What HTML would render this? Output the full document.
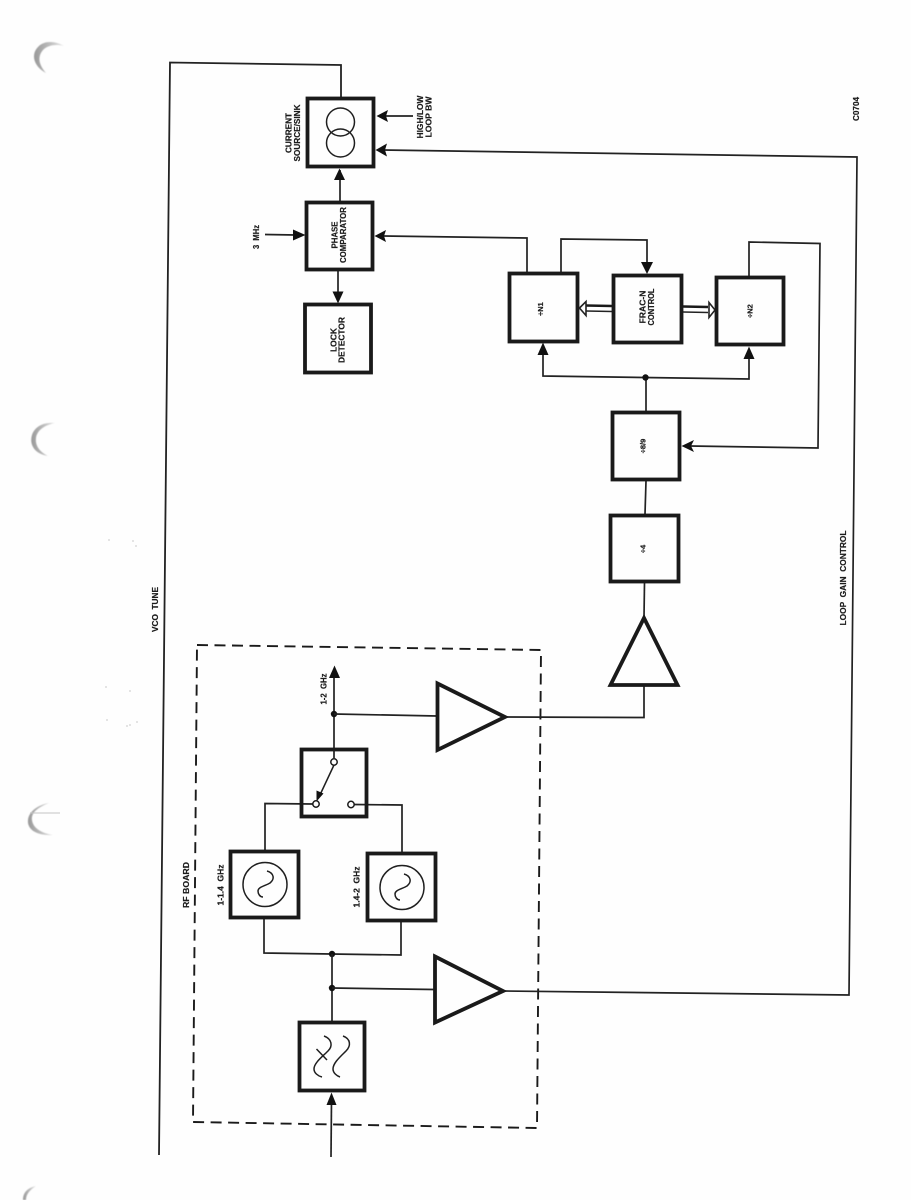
<!DOCTYPE html>
<html>
<head>
<meta charset="utf-8">
<style>
html,body{margin:0;padding:0;background:#fff;width:911px;height:1200px;overflow:hidden}
svg{display:block}
text{font-family:"Liberation Sans",sans-serif;font-weight:bold;fill:#1c1c1c;stroke:#1c1c1c;stroke-width:.2;font-size:8px;text-anchor:middle}
.b{fill:none;stroke:#1a1a1a;stroke-width:3.8}
.l{fill:none;stroke:#222;stroke-width:1.7}
.t{fill:none;stroke:#1f1f1f;stroke-width:1.5}
.a{fill:#111;stroke:none}
.d{fill:#111;stroke:none}
</style>
</head>
<body>
<svg width="911" height="1200" viewBox="0 0 911 1200" xmlns="http://www.w3.org/2000/svg">
<defs>
<linearGradient id="g" x1="0" y1="0" x2="1" y2="0">
<stop offset="0" stop-color="#999"/><stop offset="0.5" stop-color="#bbb"/><stop offset="1" stop-color="#e6e6e6"/>
</linearGradient>
<filter id="s"><feGaussianBlur stdDeviation="0.5"/></filter>
</defs>
<rect width="911" height="1200" fill="#fefefe"/>

<!-- punch holes -->
<g filter="url(#s)">
<path d="M64 46 C56 41 44 40 38 47 C31 54 33 66 46 73 C39 65 37 57 43 50 C48 45 56 44 64 46Z" fill="url(#g)"/>
<path d="M55 423 C44 422 35 426 32 435 C29 445 35 454 48 456 C40 452 35 446 36 438 C37 430 45 425 55 423Z" fill="url(#g)"/>
<path d="M49 803 C38 805 29 811 28 820 C27 829 36 836 53 835 C41 833 33 828 32 820 C31 812 39 807 49 803Z" fill="url(#g)"/>
<path d="M36 1186 C27 1188 23 1193 23 1200 L26 1200 C26 1194 30 1190 36 1186Z" fill="url(#g)"/>
</g>
<line x1="30" y1="813" x2="60" y2="813" stroke="#c4c4c4" stroke-width="1"/>
<g fill="#dcdcdc">
<circle cx="109" cy="540" r="1"/><circle cx="133" cy="541" r="1"/><circle cx="136" cy="546" r="1"/>
<circle cx="106" cy="687" r="1"/><circle cx="130" cy="691" r="1"/><circle cx="107" cy="720" r="1"/>
<circle cx="130" cy="725" r="1"/><circle cx="127" cy="726" r="1"/><circle cx="137" cy="722" r="1"/>
</g>

<!-- dashed RF board -->
<path d="M197 645 L541 650 L537 1128 L193 1122 Z" fill="none" stroke="#1a1a1a" stroke-width="1.9" stroke-dasharray="11 6.5"/>

<!-- VCO tune -->
<path d="M341 97 L341 65 L170 62.5 L159 1155" fill="none" stroke="#222" stroke-width="1.8"/>

<!-- Loop gain control -->
<path d="M383 150 L857 157 L849 995 L504 991" class="l"/>
<path class="a" d="M375.500 150 L387 143.500 L385 150 L387 156.500Z"/>

<!-- signal path -->
<path class="l" d="M340 201 L340 170"/>
<path class="a" d="M339.500 168.500 L345 180 L334 180Z"/>
<path class="l" d="M338 271 L338 295"/>
<path class="a" d="M338 303.500 L332.500 291.500 L343.500 291.500Z"/>
<path class="l" d="M265 234.500 L296 235"/>
<path class="a" d="M305.500 235 L293 229.500 L293 240.500Z"/>
<path class="l" d="M413 116 L385 116"/>
<path class="a" d="M376.500 116 L388 110 L386 116 L388 122Z"/>

<path class="l" d="M527 272 L527 238 L384 236"/>
<path class="a" d="M374.500 236 L386 230 L384 236 L386 242Z"/>
<path class="l" d="M561 272 L561 239 L647 240 L647 265"/>
<path class="a" d="M647 274 L641 262 L653 262Z"/>
<path class="l" d="M749 276 L749 242 L820 243.500 L818 448 L690 446"/>
<path class="a" d="M681.500 446 L694 440 L691 446 L694 452Z"/>

<path class="l" d="M646 411 L646 377"/>
<path class="l" d="M543 351 L543 376 L749 379 L749 355"/>
<path class="a" d="M543 342.500 L537.500 355 L548.500 355Z"/>
<path class="a" d="M749 346.500 L743.500 359 L754.500 359Z"/>
<circle class="d" cx="645.500" cy="377.500" r="3.200"/>
<path class="l" d="M645 514 L646 481"/>
<path class="l" d="M644 617 L644.500 583"/>

<!-- bus arrows -->
<path d="M612 306 L586 305.500" stroke="#1a1a1a" stroke-width="2.6" fill="none"/>
<path d="M612 311.500 L586 311" stroke="#222" stroke-width="1.4" fill="none"/>
<path d="M579.500 308 L586 301.500 L586 315.500Z" fill="#fff" stroke="#222" stroke-width="1.6"/>
<path d="M683 306.500 L708 307" stroke="#1a1a1a" stroke-width="2.6" fill="none"/>
<path d="M683 312 L708 312.500" stroke="#222" stroke-width="1.4" fill="none"/>
<path d="M715 310 L709 302.500 L709 317.500Z" fill="#fff" stroke="#222" stroke-width="1.6"/>

<!-- RF section connections -->
<path class="l" d="M506 717 L644 717.500 L644 686"/>
<path class="l" d="M334 758 L334 672"/>
<path class="a" d="M334.500 665.500 L340 678 L329 678Z"/>
<circle class="d" cx="334" cy="714" r="3.200"/>
<path class="l" d="M334 714 L437 716"/>
<path class="l" d="M265 850 L265 803.500 L312.500 804"/>
<path class="l" d="M402 852 L402 805 L354.500 804.500"/>
<path class="l" d="M264 919 L264 953 L401 955 L401 922"/>
<circle class="d" cx="332" cy="954" r="3.200"/>
<path class="l" d="M332 954 L332 1021"/>
<circle class="d" cx="332" cy="988" r="3.200"/>
<path class="l" d="M332 988 L434 989.500"/>
<path class="l" d="M331 1157 L331.500 1100"/>
<path class="a" d="M331.500 1092.500 L336.500 1105 L326.500 1105Z"/>

<!-- blocks -->
<rect class="b" x="307.500" y="98.500" width="66" height="68"/>
<rect class="b" x="306.500" y="202.500" width="66" height="67"/>
<rect class="b" x="305" y="304.500" width="66" height="68"/>
<rect class="b" x="509.500" y="273.500" width="68" height="68"/>
<rect class="b" x="613.500" y="275.500" width="68" height="67"/>
<rect class="b" x="716.500" y="277.500" width="67" height="67"/>
<rect class="b" x="612.500" y="412.500" width="67" height="67"/>
<rect class="b" x="610.500" y="515.500" width="68" height="66"/>
<rect class="b" x="301.500" y="749.500" width="65" height="67"/>
<rect class="b" x="230.500" y="851.500" width="68" height="66"/>
<rect class="b" x="367.500" y="853.500" width="68" height="67"/>
<rect class="b" x="299.500" y="1022.500" width="65" height="68"/>

<!-- amplifiers -->
<path class="b" d="M437.500 683.500 L505 717 L437.500 750Z" stroke-linejoin="miter"/>
<path class="b" d="M435 956.500 L503 991 L435 1022.500Z"/>
<path class="b" d="M644 618 L677.500 685 L610.500 685Z"/>

<!-- current source symbol -->
<circle class="t" cx="340.500" cy="122" r="14"/>
<circle class="t" cx="340.500" cy="143" r="14"/>

<!-- switch -->
<path class="t" d="M334 765 L319 797"/>
<path class="a" d="M316.500 801.500 L316.500 790.500 L323.500 793.500Z"/>
<circle cx="334" cy="762" r="3.200" fill="#fff" stroke="#1a1a1a" stroke-width="1.500"/>
<circle cx="316" cy="804" r="3.200" fill="#fff" stroke="#1a1a1a" stroke-width="1.500"/>
<circle cx="351" cy="804.500" r="3.200" fill="#fff" stroke="#1a1a1a" stroke-width="1.500"/>

<!-- oscillators -->
<circle class="t" cx="265" cy="884.500" r="22"/>
<path class="t" d="M267 871 C274 873 275 879 270 883 C265 886 258 887 258 891 C258 894 260 897 263 897"/>
<circle class="t" cx="402" cy="887.500" r="22"/>
<path class="t" d="M404 874 C411 876 412 882 407 886 C402 889 395 890 395 894 C395 897 397 900 400 900"/>

<!-- filter -->
<path class="t" d="M324 1036 C332 1039 333 1046 328 1051 C322 1057 314 1063 314 1069 C314 1073 318 1076 322 1077"/>
<path class="t" d="M343 1036 C351 1039 351 1046 346 1051 C340 1057 333 1063 333 1069 C333 1073 337 1076 340 1077"/>
<path class="t" d="M316.500 1049 L327 1060"/>

<!-- labels -->
<text transform="translate(291.500 133) rotate(-90)" textLength="40" lengthAdjust="spacingAndGlyphs">CURRENT</text>
<text transform="translate(300 133) rotate(-90)" textLength="57" lengthAdjust="spacingAndGlyphs">SOURCE/SINK</text>
<text transform="translate(423 117) rotate(-90)" textLength="43" lengthAdjust="spacingAndGlyphs">HIGH/LOW</text>
<text transform="translate(431.500 117) rotate(-90)" textLength="41" lengthAdjust="spacingAndGlyphs">LOOP  BW</text>
<text transform="translate(337.500 235) rotate(-90)" textLength="27" lengthAdjust="spacingAndGlyphs">PHASE</text>
<text transform="translate(346 235) rotate(-90)" textLength="56" lengthAdjust="spacingAndGlyphs">COMPARATOR</text>
<text transform="translate(259 237) rotate(-90)" textLength="24" lengthAdjust="spacingAndGlyphs" xml:space="preserve">3  MHz</text>
<text transform="translate(336.500 340) rotate(-90)" textLength="24" lengthAdjust="spacingAndGlyphs">LOCK</text>
<text transform="translate(344.500 340) rotate(-90)" textLength="46" lengthAdjust="spacingAndGlyphs">DETECTOR</text>
<text transform="translate(543 309) rotate(-90)" style="font-size:7.500px">÷N1</text>
<text transform="translate(645.500 307) rotate(-90)" textLength="33" lengthAdjust="spacingAndGlyphs">FRAC-N</text>
<text transform="translate(654 307) rotate(-90)" textLength="37" lengthAdjust="spacingAndGlyphs">CONTROL</text>
<text transform="translate(752.500 311) rotate(-90)" style="font-size:7.500px">÷N2</text>
<text transform="translate(645.500 446) rotate(-90)" style="font-size:7.500px">÷8/9</text>
<text transform="translate(645.500 549) rotate(-90)" style="font-size:7.500px">÷4</text>
<text transform="translate(326.500 689) rotate(-90)" textLength="31" lengthAdjust="spacingAndGlyphs" xml:space="preserve">1-2  GHz</text>
<text transform="translate(223.500 885) rotate(-90)" textLength="41" lengthAdjust="spacingAndGlyphs" xml:space="preserve">1-1.4  GHz</text>
<text transform="translate(359.500 887) rotate(-90)" textLength="41" lengthAdjust="spacingAndGlyphs" xml:space="preserve">1.4-2  GHz</text>
<text transform="translate(189 885) rotate(-90)" textLength="46" lengthAdjust="spacingAndGlyphs">RF BOARD</text>
<text transform="translate(846 578) rotate(-90)" textLength="95" lengthAdjust="spacingAndGlyphs" xml:space="preserve">LOOP  GAIN  CONTROL</text>
<text transform="translate(158 609.500) rotate(-90)" textLength="45" lengthAdjust="spacingAndGlyphs" xml:space="preserve">VCO  TUNE</text>
<text transform="translate(859 109) rotate(-90)" textLength="24" lengthAdjust="spacingAndGlyphs">C0704</text>
</svg>
</body>
</html>
